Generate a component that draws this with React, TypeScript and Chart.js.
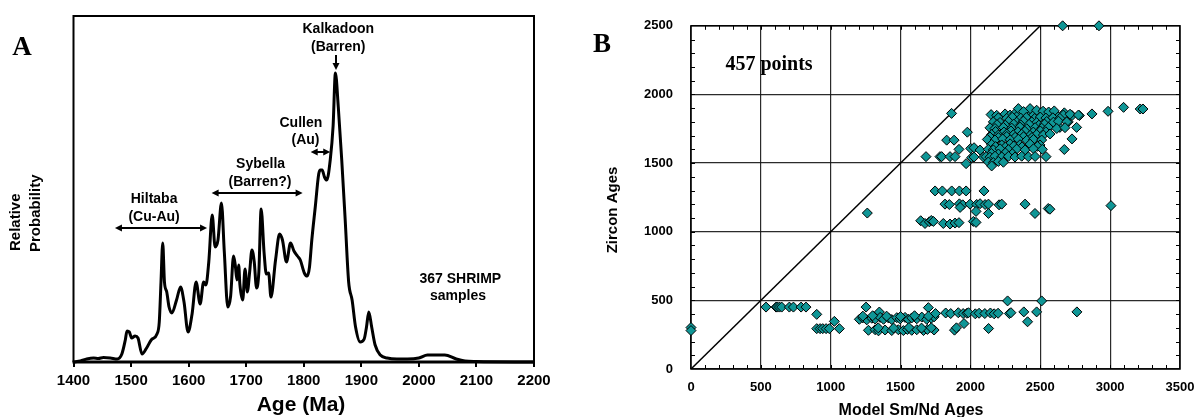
import React, { useEffect, useRef } from 'react';
import { Chart, registerables } from 'chart.js';

Chart.register(...registerables);

// ---------- Panel A : probability density of SHRIMP ages ----------
const ageMa = [
  1400, 1412, 1423, 1435, 1443, 1452, 1464, 1476, 1484, 1490,
  1493, 1497, 1501, 1507, 1512, 1519, 1527, 1535, 1545, 1549,
  1552, 1555, 1558, 1562, 1566, 1571, 1579, 1586, 1592, 1599,
  1606, 1613, 1620, 1626, 1630, 1635, 1641, 1646, 1651, 1657,
  1662, 1668, 1673, 1678, 1681, 1684, 1687, 1689, 1694, 1698,
  1702, 1706, 1710, 1714, 1718, 1722, 1726, 1731, 1735, 1739,
  1743, 1751, 1758, 1763, 1770, 1777, 1783, 1789, 1794, 1801,
  1806, 1810, 1814, 1820, 1826, 1829, 1832, 1836, 1840, 1846,
  1851, 1855, 1860, 1866, 1872, 1878, 1884, 1890, 1898, 1905,
  1909, 1913, 1918, 1924, 1933, 1945, 1962, 1980, 2000, 2015,
  2045, 2065, 2080, 2100, 2200,
];
const relProb = [
  0, 1, 3, 4, 3.5, 4.5, 4, 3, 8, 22,
  31, 30, 24, 26, 24, 8, 14, 22, 28, 40,
  80, 119, 80, 70, 55, 49, 62, 75, 60, 30,
  48, 80, 58, 80, 77, 100, 147, 115, 122, 159,
  110, 55, 66, 106, 97, 82, 97, 78, 62, 93,
  70, 90, 112, 100, 74, 90, 153, 110, 88, 89,
  65, 102, 128, 122, 100, 119, 111, 106, 102, 89,
  86, 95, 122, 155, 188, 192, 192, 185, 182, 202,
  236, 289, 255, 202, 142, 80, 62, 35, 20, 23,
  35, 50, 35, 17, 7, 4, 3, 3, 4, 7,
  7, 3, 1, 0.5, 0,
];
const ageTickStep = 100;

const aLabels = [
  { text: 'Kalkadoon', age: 1860, prob: 333 },
  { text: '(Barren)', age: 1860, prob: 315 },
  { text: 'Cullen', age: 1795, prob: 239 },
  { text: '(Au)', age: 1803, prob: 222 },
  { text: 'Sybella', age: 1725, prob: 198 },
  { text: '(Barren?)', age: 1724, prob: 180 },
  { text: 'Hiltaba', age: 1540, prob: 163 },
  { text: '(Cu-Au)', age: 1540, prob: 145 },
  { text: '367 SHRIMP', age: 2072, prob: 83 },
  { text: 'samples', age: 2068, prob: 66 },
];
const aRanges = [
  { from: 1472, to: 1632, prob: 134 },
  { from: 1640, to: 1798, prob: 169 },
  { from: 1812, to: 1846, prob: 210 },
];
const aPointer = { age: 1856, fromProb: 307, toProb: 292 };

// ---------- Panel B : zircon vs model Sm/Nd ages ----------
const concordLine = [0, 2500];
const smNdZircon: [number, number][] = [
  [2660, 2500], [2920, 2500], [1865, 1862], [1262, 1136],
  [2870, 1858], [2985, 1877], [3096, 1906], [3215, 1894], [3235, 1894], [2780, 1846], [2727, 1846],
  [2672, 1866], [2727, 1676], [2672, 1599], [2760, 1760], [2700, 1800], [2640, 1760],
  [1978, 1725], [1830, 1667], [1883, 1667], [1918, 1600], [1682, 1547], [1782, 1547], [1794, 1547],
  [1854, 1547], [1890, 1547], [1969, 1496], [2002, 1607], [2026, 1612], [2009, 1540], [2026, 1544],
  [2069, 1595], [2093, 1544],
  [2148, 1853], [2188, 1848], [2248, 1858], [2284, 1850], [2319, 1862], [2339, 1846], [2427, 1855],
  [2451, 1849], [2494, 1860], [2522, 1852], [2570, 1845], [2606, 1858], [2665, 1850], [2713, 1856], [2773, 1850],
  [2343, 1897], [2427, 1897], [2474, 1885], [2380, 1875], [2520, 1878], [2560, 1872], [2600, 1880],
  [2200, 1830], [2260, 1826], [2300, 1834], [2360, 1828], [2400, 1832], [2460, 1825], [2500, 1835],
  [2540, 1828], [2590, 1830], [2640, 1826],
  [2164, 1800], [2212, 1796], [2272, 1804], [2331, 1798], [2379, 1806], [2439, 1800], [2474, 1795],
  [2546, 1803], [2594, 1798], [2630, 1805], [2689, 1800],
  [2190, 1780], [2250, 1776], [2310, 1784], [2360, 1778], [2420, 1782], [2490, 1776], [2530, 1784],
  [2140, 1757], [2176, 1752], [2236, 1760], [2295, 1755], [2355, 1762], [2403, 1750], [2463, 1758],
  [2510, 1754], [2558, 1760], [2618, 1752], [2677, 1758],
  [2180, 1730], [2240, 1726], [2290, 1734], [2340, 1728], [2390, 1732], [2450, 1726], [2500, 1734], [2540, 1728],
  [2152, 1708], [2200, 1704], [2260, 1712], [2307, 1706], [2367, 1710], [2427, 1702], [2474, 1708],
  [2522, 1704], [2570, 1712],
  [2140, 1690], [2200, 1686], [2260, 1694], [2320, 1688], [2380, 1692], [2440, 1686],
  [2121, 1672], [2176, 1668], [2231, 1676], [2284, 1670], [2343, 1674], [2403, 1666], [2451, 1672], [2510, 1668],
  [2152, 1636], [2224, 1632], [2284, 1640], [2355, 1634], [2427, 1638], [2498, 1632],
  [2180, 1620], [2250, 1616], [2310, 1624], [2370, 1618], [2480, 1622],
  [2128, 1600], [2164, 1596], [2212, 1604], [2272, 1598], [2331, 1602], [2391, 1596], [2451, 1604], [2515, 1600],
  [2150, 1570], [2200, 1566], [2250, 1574], [2300, 1568],
  [2112, 1547], [2140, 1543], [2176, 1550], [2224, 1545], [2272, 1549], [2319, 1544], [2367, 1550],
  [2415, 1546], [2463, 1548], [2541, 1547],
  [2128, 1508], [2164, 1504], [2200, 1512], [2236, 1506], [2152, 1479],
  [1747, 1297], [1799, 1297], [1866, 1297], [1921, 1297], [1969, 1297], [2097, 1297],
  [1818, 1201], [1849, 1198], [1921, 1203], [1945, 1196], [1997, 1201], [2045, 1199], [2069, 1204],
  [2105, 1198], [2129, 1201], [2205, 1196], [2224, 1201], [2391, 1201], [3006, 1190],
  [1926, 1177], [2040, 1148], [2129, 1133], [2462, 1133], [2557, 1169], [2569, 1164],
  [1644, 1080], [1675, 1060], [1706, 1072], [1720, 1082], [1735, 1075], [1806, 1060], [1854, 1056],
  [1890, 1063], [1918, 1066], [2021, 1075], [2040, 1068],
  [0, 302], [0, 280],
  [537, 451], [609, 451], [618, 451], [633, 451], [649, 451], [704, 451], [733, 451], [788, 451], [823, 451],
  [900, 398], [900, 294], [924, 294], [943, 294], [967, 294], [990, 294], [1062, 294], [1026, 347],
  [1253, 451], [1348, 415], [1699, 447],
  [1205, 362], [1229, 372], [1258, 358], [1294, 370], [1318, 364], [1354, 376], [1378, 362], [1413, 372],
  [1437, 360], [1473, 374], [1497, 365], [1532, 376], [1556, 362], [1580, 372], [1616, 366], [1652, 378],
  [1687, 362], [1720, 370], [1740, 380],
  [1230, 385], [1300, 388], [1400, 385], [1500, 382], [1600, 388], [1700, 385],
  [1270, 282], [1318, 286], [1342, 278], [1389, 284], [1437, 280], [1484, 286], [1520, 280], [1549, 288],
  [1580, 282], [1616, 286], [1664, 280], [1692, 288], [1740, 284],
  [1340, 300], [1450, 298], [1560, 302], [1650, 298], [1720, 300],
  [1750, 404], [1823, 408], [1859, 404], [1913, 410], [1948, 404], [1975, 406], [1986, 410], [2035, 402],
  [2062, 406], [2103, 404], [2143, 408], [2170, 402], [2198, 406], [2279, 404], [2290, 410],
  [2266, 496], [2510, 496], [2382, 416], [2474, 416], [2762, 416], [2409, 344], [1954, 331],
  [1886, 283], [1900, 300], [2130, 295],
];
const smNdTickStep = 500;
const zirconTickStep = 500;
const minorStep = 100;

const SANS = "'Liberation Sans', Arial, Helvetica, sans-serif";
const SERIF = "'Liberation Serif', 'Times New Roman', serif";
const plainNumber = (v: any) => String(v);

function arrowHead(ctx: CanvasRenderingContext2D, x: number, y: number, dx: number, dy: number) {
  const len = 7, half = 3.5;
  const px = -dy, py = dx;
  ctx.beginPath();
  ctx.moveTo(x, y);
  ctx.lineTo(x - dx * len + px * half, y - dy * len + py * half);
  ctx.lineTo(x - dx * len - px * half, y - dy * len - py * half);
  ctx.closePath();
  ctx.fill();
}

const decorA = {
  id: 'decorA',
  afterDraw(chart: any) {
    const { ctx, chartArea: ca, scales } = chart;
    const xs = scales.x, ys = scales.y;
    ctx.save();
    ctx.strokeStyle = '#000';
    ctx.fillStyle = '#000';
    ctx.lineWidth = 2;
    ctx.beginPath();
    ctx.moveTo(ca.left, ca.bottom);
    ctx.lineTo(ca.left, ca.top);
    ctx.lineTo(ca.right, ca.top);
    ctx.lineTo(ca.right, ca.bottom);
    ctx.stroke();
    ctx.lineWidth = 3;
    ctx.beginPath();
    ctx.moveTo(ca.left - 1, ca.bottom);
    ctx.lineTo(ca.right + 1, ca.bottom);
    ctx.stroke();

    ctx.font = `bold 14px ${SANS}`;
    ctx.textAlign = 'center';
    ctx.textBaseline = 'middle';
    aLabels.forEach((l) => ctx.fillText(l.text, xs.getPixelForValue(l.age), ys.getPixelForValue(l.prob)));

    ctx.lineWidth = 2;
    aRanges.forEach((r) => {
      const x1 = xs.getPixelForValue(r.from), x2 = xs.getPixelForValue(r.to), y = ys.getPixelForValue(r.prob);
      ctx.beginPath();
      ctx.moveTo(x1 + 4, y);
      ctx.lineTo(x2 - 4, y);
      ctx.stroke();
      arrowHead(ctx, x1, y, -1, 0);
      arrowHead(ctx, x2, y, 1, 0);
    });
    const px = xs.getPixelForValue(aPointer.age);
    const py1 = ys.getPixelForValue(aPointer.fromProb), py2 = ys.getPixelForValue(aPointer.toProb);
    ctx.beginPath();
    ctx.moveTo(px, py1);
    ctx.lineTo(px, py2 - 4);
    ctx.stroke();
    arrowHead(ctx, px, py2, 0, 1);

    // titles
    ctx.font = `bold 21px ${SANS}`;
    ctx.fillText('Age (Ma)', 301, 405);
    ctx.font = `bold 15px ${SANS}`;
    ctx.textAlign = 'left';
    ctx.save();
    ctx.translate(16, 251);
    ctx.rotate(-Math.PI / 2);
    ctx.fillText('Relative', 0, 0);
    ctx.restore();
    ctx.save();
    ctx.translate(36, 252);
    ctx.rotate(-Math.PI / 2);
    ctx.fillText('Probability', 0, 0);
    ctx.restore();
    ctx.textAlign = 'center';
    ctx.font = `bold 27px ${SERIF}`;
    ctx.fillText('A', 22, 48);
    ctx.restore();
  },
};

const decorB = {
  id: 'decorB',
  beforeDatasetsDraw(chart: any) {
    const { ctx, chartArea: ca, scales } = chart;
    const xs = scales.x, ys = scales.y;
    ctx.save();
    ctx.strokeStyle = '#000';
    ctx.lineWidth = 1;
    ctx.beginPath();
    for (let v = minorStep; v < xs.max; v += minorStep) {
      const x = Math.round(xs.getPixelForValue(v)) + 0.5;
      ctx.moveTo(x, ca.bottom);
      ctx.lineTo(x, ca.bottom - 4);
      ctx.moveTo(x, ca.top);
      ctx.lineTo(x, ca.top + 4);
    }
    for (let v = minorStep; v < ys.max; v += minorStep) {
      const y = Math.round(ys.getPixelForValue(v)) + 0.5;
      ctx.moveTo(ca.left, y);
      ctx.lineTo(ca.left + 4, y);
      ctx.moveTo(ca.right, y);
      ctx.lineTo(ca.right - 4, y);
    }
    ctx.stroke();
    ctx.lineWidth = 1.5;
    ctx.strokeRect(ca.left, ca.top, ca.right - ca.left, ca.bottom - ca.top);
    ctx.restore();
  },
  afterDraw(chart: any) {
    const { ctx } = chart;
    ctx.save();
    ctx.fillStyle = '#000';
    ctx.textAlign = 'center';
    ctx.textBaseline = 'middle';
    ctx.font = `bold 16px ${SANS}`;
    ctx.fillText('Model Sm/Nd Ages', 911 - 580, 411);
    ctx.font = `bold 15px ${SANS}`;
    ctx.save();
    ctx.translate(613 - 580, 210);
    ctx.rotate(-Math.PI / 2);
    ctx.fillText('Zircon Ages', 0, 0);
    ctx.restore();
    ctx.font = `bold 27px ${SERIF}`;
    ctx.fillText('B', 602 - 580, 45);
    ctx.font = `bold 20px ${SERIF}`;
    ctx.fillText('457 points', 769 - 580, 65);
    ctx.restore();
  },
};

export default function App() {
  const refA = useRef<HTMLCanvasElement>(null);
  const refB = useRef<HTMLCanvasElement>(null);

  useEffect(() => {
    Chart.defaults.font.family = SANS;
    Chart.defaults.color = '#000';

    const chartA = new Chart(refA.current as HTMLCanvasElement, {
      type: 'line',
      data: {
        datasets: [
          {
            data: ageMa.map((a, i) => ({ x: a, y: relProb[i] })),
            borderColor: '#000',
            borderWidth: 3,
            pointRadius: 0,
            cubicInterpolationMode: 'monotone',
            fill: false,
            clip: 4,
          } as any,
        ],
      },
      options: {
        animation: false,
        responsive: false,
        layout: { padding: { left: 0, top: 16, right: 46, bottom: 0 } },
        plugins: { legend: { display: false }, tooltip: { enabled: false } },
        scales: {
          x: {
            type: 'linear',
            min: 1400,
            max: 2200,
            ticks: { stepSize: ageTickStep, callback: plainNumber, color: '#000', font: { size: 15, weight: 'bold' }, padding: 5, maxRotation: 0, autoSkip: false },
            grid: { drawOnChartArea: false, drawTicks: true, tickLength: 5, color: '#000', lineWidth: 2 },
            border: { display: false },
            afterFit: (s: any) => { s.height = 55; },
          },
          y: {
            type: 'linear',
            min: 0,
            max: 346,
            ticks: { display: false },
            grid: { display: false },
            border: { display: false },
            afterFit: (s: any) => { s.width = 73.5; },
          },
        },
      } as any,
      plugins: [decorA],
    });

    const chartB = new Chart(refB.current as HTMLCanvasElement, {
      type: 'scatter',
      data: {
        datasets: [
          {
            type: 'line',
            data: concordLine.map((v) => ({ x: v, y: v })),
            borderColor: '#000',
            borderWidth: 1.5,
            pointRadius: 0,
            order: 2,
          } as any,
          {
            type: 'scatter',
            data: smNdZircon.map(([x, y]) => ({ x, y })),
            pointStyle: 'rectRot',
            pointRadius: 5,
            backgroundColor: '#0f9696',
            borderColor: '#000',
            borderWidth: 1,
            clip: false,
            order: 1,
          } as any,
        ],
      },
      options: {
        animation: false,
        responsive: false,
        layout: { padding: { left: 0, top: 24, right: 30, bottom: 0 } },
        plugins: { legend: { display: false }, tooltip: { enabled: false } },
        scales: {
          x: {
            type: 'linear',
            min: 0,
            max: 3500,
            ticks: { stepSize: smNdTickStep, callback: plainNumber, color: '#000', font: { size: 13, weight: 'bold' }, padding: 11, maxRotation: 0, autoSkip: false },
            grid: { color: 'rgba(20,20,20,0.9)', lineWidth: 1.2, drawTicks: false },
            border: { display: false },
            afterFit: (s: any) => { s.height = 48; },
          },
          y: {
            type: 'linear',
            min: 0,
            max: 2500,
            ticks: { stepSize: zirconTickStep, callback: plainNumber, color: '#000', font: { size: 13, weight: 'bold' }, padding: 18, autoSkip: false },
            grid: { color: 'rgba(20,20,20,0.9)', lineWidth: 1.2, drawTicks: false },
            border: { display: false },
            afterFit: (s: any) => { s.width = 111; },
          },
        },
      } as any,
      plugins: [decorB],
    });

    return () => {
      chartA.destroy();
      chartB.destroy();
    };
  }, []);

  return (
    <div style={{ position: 'fixed', left: 0, top: 0, width: 1194, height: 417, overflow: 'hidden', background: '#fff' }}>
      <canvas ref={refA} width={580} height={417} style={{ position: 'absolute', left: 0, top: 0 }} />
      <canvas ref={refB} width={630} height={417} style={{ position: 'absolute', left: 580, top: 0 }} />
    </div>
  );
}
